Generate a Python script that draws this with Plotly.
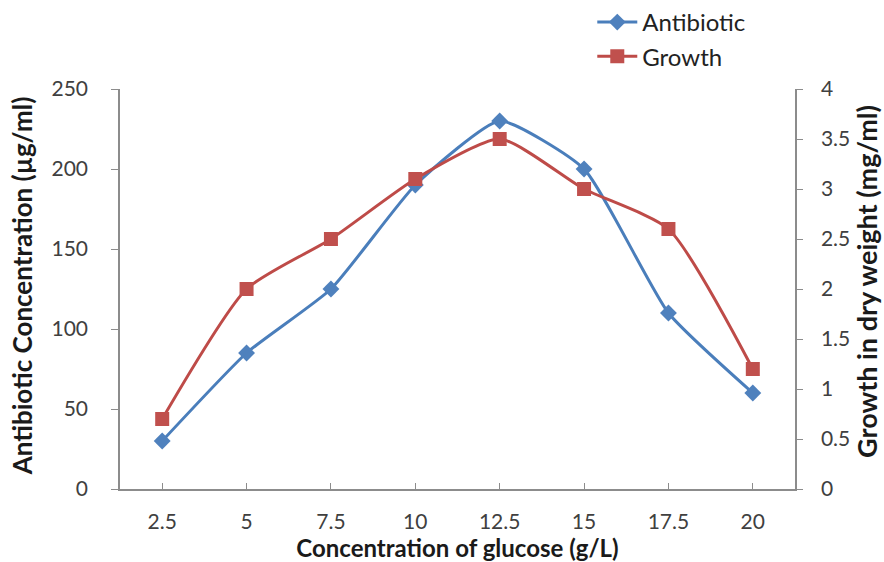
import plotly.graph_objects as go

glucose = ["2.5", "5", "7.5", "10", "12.5", "15", "17.5", "20"]
antibiotic = [30, 85, 125, 190, 230, 200, 110, 60]
growth = [0.7, 2.0, 2.5, 3.1, 3.5, 3.0, 2.6, 1.2]

left_ticks = [0, 50, 100, 150, 200, 250]
right_ticks = [0, 0.5, 1, 1.5, 2, 2.5, 3, 3.5, 4]
right_tick_text = ["0", "0.5", "1", "1.5", "2", "2.5", "3", "3.5", "4"]

FONT = "Lato"
BLUE_LINE = "#4A7EBB"
BLUE = "#4F81BD"
RED_LINE = "#BE4B48"
RED = "#C0504D"
AX = "#8C8C8C"
TXT = "#404040"

fig = go.Figure()
fig.add_trace(go.Scatter(
    x=glucose, y=antibiotic, name="Antibiotic", mode="lines+markers",
    line=dict(color=BLUE_LINE, width=3, shape="spline", smoothing=0.5),
    marker=dict(symbol="diamond", size=13, color=BLUE, line=dict(width=0)),
    yaxis="y",
))
fig.add_trace(go.Scatter(
    x=glucose, y=growth, name="Growth", mode="lines+markers",
    line=dict(color=RED_LINE, width=3, shape="spline", smoothing=0.6),
    marker=dict(symbol="square", size=14, color=RED, line=dict(width=0)),
    yaxis="y2",
))

fig.update_layout(
    width=884, height=562,
    margin=dict(l=120, r=89, t=89, b=73, autoexpand=False),
    paper_bgcolor="white", plot_bgcolor="white",
    font=dict(family=FONT, size=21, color=TXT),
    showlegend=True,
    legend=dict(x=0.67, y=1.018, xref="container", yref="container",
                xanchor="left", yanchor="top",
                font=dict(family=FONT, size=24, color="#222"),
                bgcolor="rgba(0,0,0,0)", tracegroupgap=0, itemwidth=40),
    xaxis=dict(
        type="category", range=[-0.5, 7.5],
        showline=True, linecolor=AX, linewidth=1.5,
        ticks="inside", ticklen=6, tickcolor=AX,
        showgrid=False, zeroline=False,
        ticklabelstandoff=13,
        tickfont=dict(family=FONT, size=21, color=TXT),
        title=dict(text="<b>Concentration of glucose (g/L)</b>", standoff=0,
                   font=dict(family=FONT, size=24, color="#1a1a1a")),
    ),
    yaxis=dict(
        range=[0, 250], tickvals=left_ticks,
        showline=True, linecolor=AX, linewidth=1.5,
        ticks="outside", ticklen=7, tickcolor=AX,
        showgrid=False, zeroline=False,
        ticklabelstandoff=19,
        tickfont=dict(family=FONT, size=21, color=TXT),
    ),
    yaxis2=dict(
        overlaying="y", side="right",
        range=[0, 4], tickvals=right_ticks, ticktext=right_tick_text,
        showline=True, linecolor=AX, linewidth=1.5,
        ticks="outside", ticklen=6, tickcolor=AX,
        showgrid=False, zeroline=False,
        ticklabelstandoff=14,
        tickfont=dict(family=FONT, size=21, color=TXT),
    ),
    annotations=[
        dict(
            text="<b>Antibiotic Concentration (µg/ml)</b>", textangle=-90,
            xref="paper", yref="paper", x=-0.145, y=0.507,
            xanchor="center", yanchor="middle", showarrow=False,
            font=dict(family=FONT, size=26, color="#1a1a1a"),
        ),
        dict(
            text="<b>Growth in dry weight (mg/ml)</b>", textangle=-90,
            xref="paper", yref="paper", x=1.105, y=0.52,
            xanchor="center", yanchor="middle", showarrow=False,
            font=dict(family=FONT, size=27, color="#1a1a1a"),
        ),
    ],
)

fig.write_html("out.html")
